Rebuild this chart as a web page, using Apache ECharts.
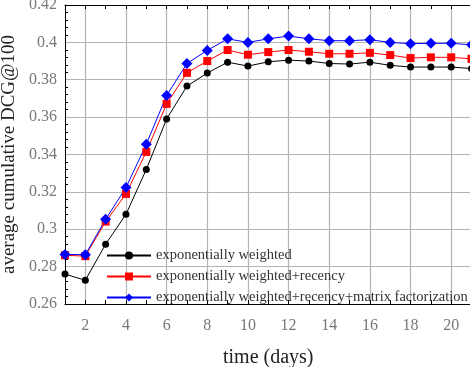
<!DOCTYPE html>
<html><head><meta charset="utf-8">
<script src="https://cdn.jsdelivr.net/npm/echarts@6/dist/echarts.min.js"></script>
<style>html,body{margin:0;padding:0;background:#fff}#c{width:470px;height:367px}</style>
</head><body><div id="c"></div>
<script>
var days = [1,2,3,4,5,6,7,8,9,10,11,12,13,14,15,16,17,18,19,20,21];
var expWeighted = [0.276,0.2727,0.292,0.308,0.332,0.359,0.3766,0.3836,0.3894,0.3873,0.3896,0.3905,0.39,0.3887,0.3884,0.3894,0.3877,0.3868,0.3868,0.3868,0.386];
var expRecency = [0.2861,0.2856,0.3041,0.3189,0.3414,0.3671,0.3837,0.39,0.3959,0.3934,0.3948,0.3959,0.395,0.3939,0.3939,0.3944,0.3932,0.3916,0.392,0.392,0.3912];
var expRecencyMF = [0.2865,0.2864,0.3053,0.3223,0.3455,0.3716,0.3887,0.3957,0.4019,0.4,0.4019,0.4034,0.4019,0.4009,0.4009,0.4014,0.4,0.3993,0.3995,0.3995,0.3987];
var seriesNames = ['exponentially weighted','exponentially weighted+recency','exponentially weighted+recency+matrix factorization'];
var yTicks = {min:0.26, max:0.42, step:0.02};

var FONT = 'Liberation Serif';
var chart = echarts.init(document.getElementById('c'), null, {renderer:'canvas'});
function even(i, v){ return Number(v) % 2 === 0; }
chart.setOption({
  animation:false,
  backgroundColor:'#fff',
  grid:{left:65, top:5, width:406.5, height:299, containLabel:false, outerBoundsMode:'none'},
  legend:{
    orient:'vertical', left:101, top:243, itemGap:6, itemWidth:44, itemHeight:10,
    textStyle:{fontFamily:FONT, fontSize:14.5, color:'#333'},
    data:seriesNames
  },
  xAxis:[{
    type:'category', data:days, boundaryGap:false, position:'bottom',
    name:'time (days)', nameLocation:'middle', nameGap:44,
    nameTextStyle:{fontFamily:FONT, fontSize:20, color:'#222'},
    axisLine:{lineStyle:{color:'#000', width:1}},
    axisTick:{inside:true, length:4, interval:0, lineStyle:{color:'#000'}},
    axisLabel:{interval:even, fontFamily:FONT, fontSize:16, color:'#777', margin:14},
    splitLine:{show:true, interval:even, lineStyle:{color:'#b4b4b4', width:1.2}}
  },{
    type:'category', data:days, boundaryGap:false, position:'top',
    axisLine:{lineStyle:{color:'#000', width:1}},
    axisTick:{inside:true, length:4, interval:0, lineStyle:{color:'#000'}},
    axisLabel:{show:false}, splitLine:{show:false}
  }],
  yAxis:{
    type:'value', min:yTicks.min, max:yTicks.max, interval:yTicks.step,
    name:'average cumulative DCG@100', nameLocation:'middle', nameGap:42,
    nameTextStyle:{fontFamily:FONT, fontSize:19, color:'#222'},
    axisLine:{show:true, lineStyle:{color:'#000', width:1}},
    axisTick:{inside:true, length:5, lineStyle:{color:'#000'}},
    minorTick:{show:true, splitNumber:5, length:3, lineStyle:{color:'#000'}},
    axisLabel:{fontFamily:FONT, fontSize:16, color:'#777', margin:8},
    splitLine:{show:true, lineStyle:{color:'#b4b4b4', width:1.2}}
  },
  series:[
    {name:seriesNames[0], type:'line', data:expWeighted, symbol:'circle', symbolSize:7,
     itemStyle:{color:'#000'}, lineStyle:{color:'#000', width:1}},
    {name:seriesNames[1], type:'line', data:expRecency, symbol:'rect', symbolSize:8,
     itemStyle:{color:'#ff0000'}, lineStyle:{color:'#ff0000', width:1}},
    {name:seriesNames[2], type:'line', data:expRecencyMF, symbol:'diamond', symbolSize:11,
     itemStyle:{color:'#0000ff'}, lineStyle:{color:'#0000ff', width:1}}
  ]
});
</script></body></html>
